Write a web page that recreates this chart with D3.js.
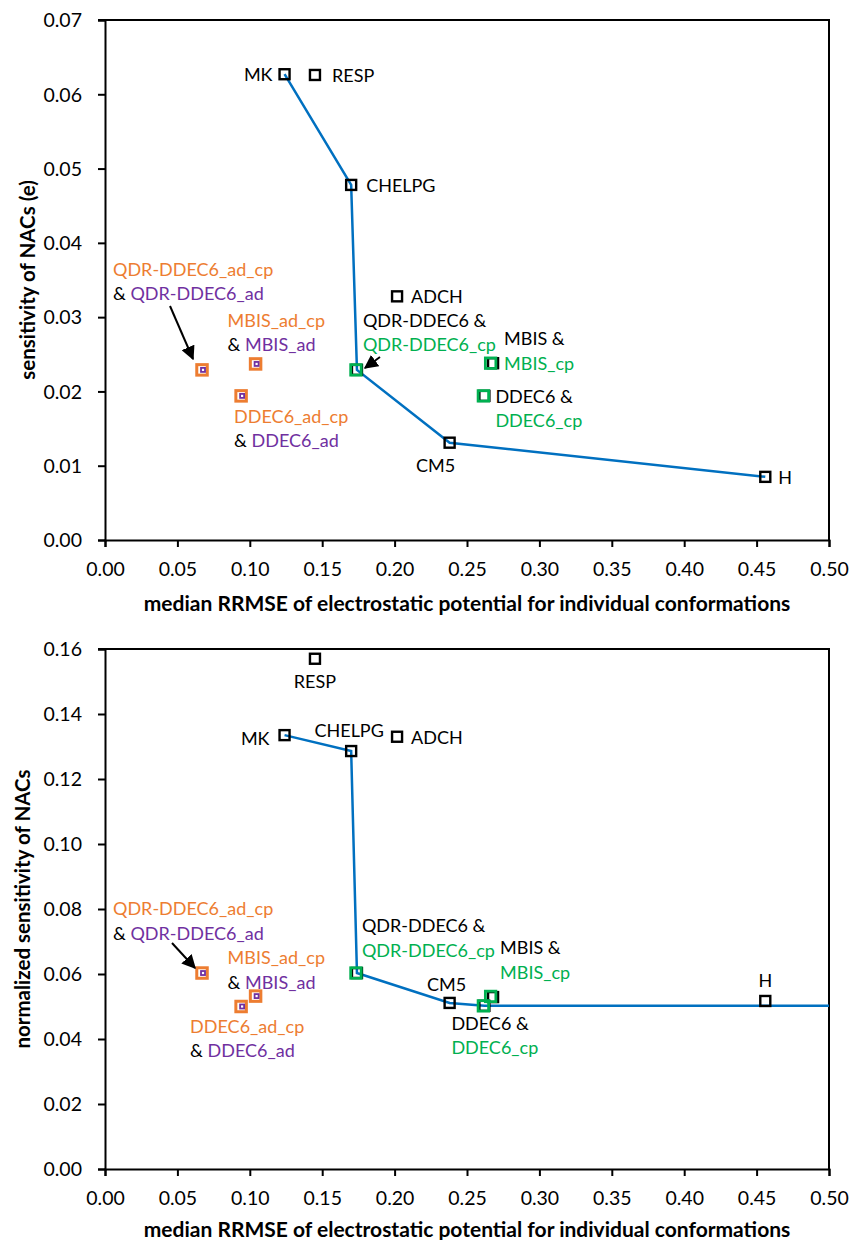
<!DOCTYPE html>
<html>
<head>
<meta charset="utf-8">
<script src="https://cdn.jsdelivr.net/npm/d3@7"></script>
<style>
  body { margin: 0; background: #fff; }
  svg { font-family: Lato, "Open Sans", sans-serif; }
  .tick text { font-size: 19.5px; fill: #000; }
</style>
</head>
<body>
<div id="chart"></div>
<script>
// reference methods (black squares)
const methods = ['MK', 'RESP', 'CHELPG', 'ADCH', 'QDR-DDEC6', 'MBIS', 'DDEC6', 'CM5', 'H']
const rrmse = [0.124, 0.145, 0.170, 0.2017, 0.174, 0.268, 0.262, 0.238, 0.456]
const sensitivity = [0.0627, 0.0626, 0.0478, 0.0328, 0.0229, 0.0238, 0.0194, 0.0131, 0.0085]
const normSensitivity = [0.1335, 0.157, 0.1286, 0.133, 0.0603, 0.0529, 0.0502, 0.0511, 0.0517]

// _cp variants (green)
const cpMethods = ['QDR-DDEC6_cp', 'MBIS_cp', 'DDEC6_cp']
const cpRrmse = [0.174, 0.267, 0.262]
const cpSensitivity = [0.0229, 0.0238, 0.0194]
const cpNormSensitivity = [0.0603, 0.0531, 0.0502]

// _ad_cp (orange) and _ad (purple) variants
const adMethods = ['QDR-DDEC6', 'MBIS', 'DDEC6']
const adRrmse = [0.067, 0.104, 0.094]
const adSensitivity = [0.0229, 0.0237, 0.0194]
const adNormSensitivity = [0.0603, 0.0532, 0.0500]

// blue frontier lines
const frontierTop = ['MK', 'CHELPG', 'QDR-DDEC6', 'CM5', 'H']
const frontierBottomX = [0.124, 0.170, 0.174, 0.238, 0.262, 0.50]
const frontierBottomY = [0.1335, 0.1286, 0.0603, 0.0511, 0.0502, 0.0502]

const xTitle = 'median RRMSE of electrostatic potential for individual conformations'

const C = { orange: '#ED7D31', purple: '#7030A0', green: '#00B050', blue: '#0070C0', black: '#000' }

const W = 853, H = 1240
const svg = d3.select('#chart').append('svg').attr('width', W).attr('height', H)

svg.append('defs').append('marker')
  .attr('id', 'arrow')
  .attr('viewBox', '0 0 10 10')
  .attr('refX', 9).attr('refY', 5)
  .attr('markerWidth', 7).attr('markerHeight', 7)
  .attr('orient', 'auto-start-reverse')
  .append('path').attr('d', 'M0,0 L10,5 L0,10 z').attr('fill', '#000')

const x = d3.scaleLinear().domain([0, 0.5]).range([105, 829])

// label layouts: pixel offsets from the point they describe
const topLabels = [
  { at: 'MK', dx: -12, dy: 0, anchor: 'end', lines: [[['MK', C.black]]] },
  { at: 'RESP', dx: 17, dy: 0, lines: [[['RESP', C.black]]] },
  { at: 'CHELPG', dx: 15, dy: 0, lines: [[['CHELPG', C.black]]] },
  { at: 'ADCH', dx: 14, dy: 0, lines: [[['ADCH', C.black]]] },
  { at: 'QDR-DDEC6', dx: 6, dy: -50, lines: [[['QDR-DDEC6 &', C.black]], [['QDR-DDEC6_cp', C.green]]] },
  { at: 'MBIS', dx: 11, dy: -25, lines: [[['MBIS &', C.black]], [['MBIS_cp', C.green]]] },
  { at: 'DDEC6', dx: 11, dy: 0, lines: [[['DDEC6 &', C.black]], [['DDEC6_cp', C.green]]] },
  { at: 'CM5', dx: -14, dy: 22, anchor: 'middle', lines: [[['CM5', C.black]]] },
  { at: 'H', dx: 13, dy: 0, lines: [[['H', C.black]]] },
  { ad: 0, dx: -89, dy: -101, lines: [[['QDR-DDEC6_ad_cp', C.orange]], [['& ', C.black], ['QDR-DDEC6_ad', C.purple]]] },
  { ad: 1, dx: -28, dy: -44, lines: [[['MBIS_ad_cp', C.orange]], [['& ', C.black], ['MBIS_ad', C.purple]]] },
  { ad: 2, dx: -7, dy: 20, lines: [[['DDEC6_ad_cp', C.orange]], [['& ', C.black], ['DDEC6_ad', C.purple]]] }
]
const bottomLabels = [
  { at: 'MK', dx: -15, dy: 3, anchor: 'end', lines: [[['MK', C.black]]] },
  { at: 'RESP', dx: 0, dy: 22, anchor: 'middle', lines: [[['RESP', C.black]]] },
  { at: 'CHELPG', dx: -2, dy: -21, anchor: 'middle', lines: [[['CHELPG', C.black]]] },
  { at: 'ADCH', dx: 14, dy: 0, lines: [[['ADCH', C.black]]] },
  { at: 'QDR-DDEC6', dx: 5, dy: -48, lines: [[['QDR-DDEC6 &', C.black]], [['QDR-DDEC6_cp', C.green]]] },
  { at: 'MBIS', dx: 7, dy: -50, lines: [[['MBIS &', C.black]], [['MBIS_cp', C.green]]] },
  { at: 'DDEC6', dx: -33, dy: 17, lines: [[['DDEC6 &', C.black]], [['DDEC6_cp', C.green]]] },
  { at: 'CM5', dx: -3, dy: -19, anchor: 'middle', lines: [[['CM5', C.black]]] },
  { at: 'H', dx: 0, dy: -21, anchor: 'middle', lines: [[['H', C.black]]] },
  { ad: 0, dx: -89, dy: -65, lines: [[['QDR-DDEC6_ad_cp', C.orange]], [['& ', C.black], ['QDR-DDEC6_ad', C.purple]]] },
  { ad: 1, dx: -28, dy: -39, lines: [[['MBIS_ad_cp', C.orange]], [['& ', C.black], ['MBIS_ad', C.purple]]] },
  { ad: 2, dx: -51, dy: 19, lines: [[['DDEC6_ad_cp', C.orange]], [['& ', C.black], ['DDEC6_ad', C.purple]]] }
]

const drawPanel = (cfg) => {
  const y = d3.scaleLinear().domain([0, cfg.yMax]).range([cfg.y0, cfg.y1])
  const g = svg.append('g')

  // frame (top and right)
  g.append('path')
    .attr('d', `M${x(0) - 7},${y(cfg.yMax)} H${x(0.5)} V${y(0)}`)
    .attr('fill', 'none').attr('stroke', '#000').attr('stroke-width', 2)

  const yAxis = g.append('g').attr('transform', `translate(${x(0)},0)`)
    .call(d3.axisLeft(y).tickValues(d3.range(0, cfg.yMax + 1e-9, cfg.yStep)).tickFormat(d3.format('.2f')).tickSizeOuter(0).tickSize(7).tickPadding(16))
  const xAxis = g.append('g').attr('transform', `translate(0,${y(0)})`)
    .call(d3.axisBottom(x).tickValues(d3.range(0, 0.5001, 0.05)).tickFormat(d3.format('.2f')).tickSizeOuter(0).tickSize(7).tickPadding(15))
  ;[xAxis, yAxis].forEach(a => {
    a.select('.domain').attr('stroke-width', 2)
    a.selectAll('.tick line').attr('stroke-width', 2)
    a.selectAll('.tick text').attr('font-family', 'Lato')
  })
  yAxis.selectAll('.tick text').attr('dy', '0.35em')

  g.append('text')
    .attr('x', (x(0) + x(0.5)) / 2).attr('y', cfg.xTitleY)
    .attr('text-anchor', 'middle').attr('dominant-baseline', 'central')
    .attr('font-weight', 'bold').attr('font-size', 21)
    .text(xTitle)
  g.append('text')
    .attr('transform', `translate(${cfg.yTitleX},${(cfg.y0 + cfg.y1) / 2}) rotate(-90)`)
    .attr('text-anchor', 'middle').attr('dominant-baseline', 'central')
    .attr('font-weight', 'bold').attr('font-size', 20.5)
    .text(cfg.yTitle)

  // frontier line
  g.append('path')
    .datum(cfg.line)
    .attr('d', d3.line().x(d => x(d[0])).y(d => y(d[1])))
    .attr('fill', 'none').attr('stroke', C.blue).attr('stroke-width', 2.5)

  const square = (sel, px, py, s, color, sw) => sel.append('rect')
    .attr('x', px - s / 2).attr('y', py - s / 2).attr('width', s).attr('height', s)
    .attr('fill', 'none').attr('stroke', color).attr('stroke-width', sw)

  methods.forEach((m, i) => square(g, x(rrmse[i]), y(cfg.vals[i]), 10, C.black, 2.4))
  cpMethods.forEach((m, i) => square(g, x(cpRrmse[i]) - 1, y(cfg.cpVals[i]), 10.5, C.green, 2.8))
  adMethods.forEach((m, i) => {
    square(g, x(adRrmse[i]), y(cfg.adVals[i]), 10.5, C.orange, 3)
    square(g, x(adRrmse[i]) + 1, y(cfg.adVals[i]), 4, C.purple, 1.8)
  })

  // arrows
  cfg.arrows.forEach(a => {
    g.append('line')
      .attr('x1', a[0]).attr('y1', a[1]).attr('x2', a[2]).attr('y2', a[3])
      .attr('stroke', '#000').attr('stroke-width', 2).attr('marker-end', 'url(#arrow)')
  })

  // labels
  cfg.labels.forEach(l => {
    let px, py
    if (l.at) {
      const i = methods.indexOf(l.at)
      px = x(rrmse[i]); py = y(cfg.vals[i])
    } else {
      px = x(adRrmse[l.ad]); py = y(cfg.adVals[l.ad])
    }
    l.lines.forEach((line, j) => {
      const t = g.append('text')
        .attr('x', px + l.dx).attr('y', py + l.dy + j * 24.5)
        .attr('text-anchor', l.anchor || 'start')
        .attr('dominant-baseline', 'central')
        .attr('font-size', 18)
      line.forEach(([s, c]) => t.append('tspan').attr('fill', c).text(s))
    })
  })
}

drawPanel({
  yMax: 0.07, yStep: 0.01, y0: 540, y1: 20,
  vals: sensitivity, cpVals: cpSensitivity, adVals: adSensitivity,
  line: frontierTop.map(m => [rrmse[methods.indexOf(m)], sensitivity[methods.indexOf(m)]]),
  labels: topLabels,
  arrows: [[170, 306, 193, 359], [380, 357, 365, 368]],
  xTitleY: 602, yTitleX: 27, yTitle: 'sensitivity of NACs (e)'
})

drawPanel({
  yMax: 0.16, yStep: 0.02, y0: 1169, y1: 649,
  vals: normSensitivity, cpVals: cpNormSensitivity, adVals: adNormSensitivity,
  line: frontierBottomX.map((v, i) => [v, frontierBottomY[i]]),
  labels: bottomLabels,
  arrows: [[172, 943, 195, 968]],
  xTitleY: 1228, yTitleX: 22, yTitle: 'normalized sensitivity of NACs'
})
</script>
</body>
</html>
